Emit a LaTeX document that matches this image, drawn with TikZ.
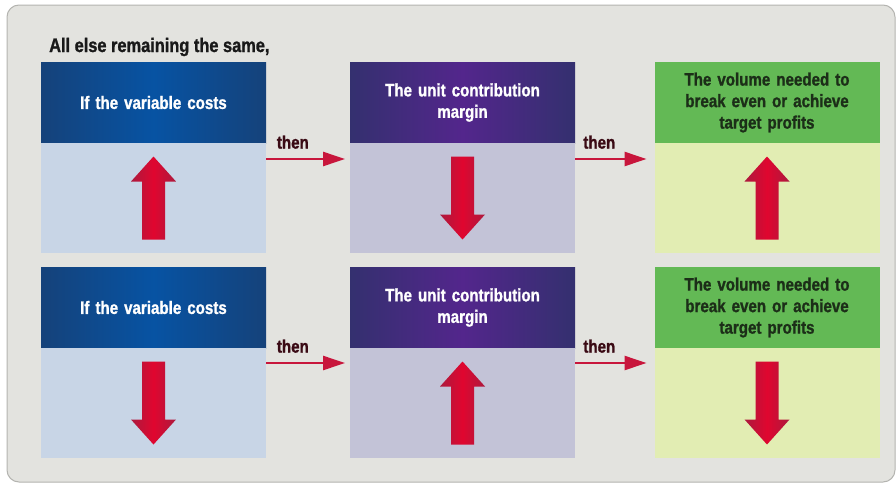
\documentclass[tikz,border=0pt]{standalone}
\usepackage{fontspec}
\setmainfont{Liberation Sans}
\newfontfamily\narrowsf[FakeStretch=0.84, BoldFeatures={FakeBold=1.2}]{Liberation Sans}
\usetikzlibrary{arrows.meta,positioning}

\definecolor{panelgray}{HTML}{E3E3DF}
\definecolor{framegray}{HTML}{B4B4B0}
\definecolor{bluedark}{HTML}{15427A}
\definecolor{bluemid}{HTML}{0753A3}
\definecolor{bluebody}{HTML}{C8D5E6}
\definecolor{purpdark}{HTML}{34306F}
\definecolor{purpmid}{HTML}{53268C}
\definecolor{purpbody}{HTML}{C3C3D7}
\definecolor{greenhd}{HTML}{63B955}
\definecolor{greenbody}{HTML}{E2EDB3}
\definecolor{greentext}{HTML}{1C2E18}
\definecolor{arrowred}{HTML}{E0062F}
\definecolor{arrowdark}{HTML}{AC1A3E}
\definecolor{thenred}{HTML}{C8163C}
\definecolor{thentext}{HTML}{3A0A14}

\tikzset{
  hdr/.style={minimum width=225pt, minimum height=81pt, inner sep=0pt, outer sep=0pt,
    text width=218pt, align=center, font=\narrowsf\bfseries\fontsize{18}{21.5}\selectfont},
  bluehdr/.style={hdr, left color=bluedark, right color=bluedark, middle color=bluemid, text=white},
  purphdr/.style={hdr, left color=purpdark, right color=purpdark, middle color=purpmid, text=white},
  greenhdr/.style={hdr, fill=greenhd, text=greentext},
  body/.style={minimum width=225pt, minimum height=110pt, inner sep=0pt, outer sep=0pt, below=0pt of #1},
  thenarrow/.style={draw=thenred, line width=2.5pt, -{Triangle[length=22pt,width=14pt]}},
  thenlabel/.style={inner sep=0pt, text=thentext, font=\narrowsf\bfseries\fontsize{18}{20}\selectfont},
  % big shaded arrows inside the boxes
  fatup/.pic={\shade[left color=arrowdark, right color=arrowdark, middle color=arrowred]
    (0,-41.5) -- (22.5,-16.5) -- (11.5,-16.5) -- (11.5,41.5) -- (-11.5,41.5) -- (-11.5,-16.5) -- (-22.5,-16.5) -- cycle;},
  fatdown/.pic={\shade[left color=arrowdark, right color=arrowdark, middle color=arrowred]
    (0,41.5) -- (22.5,16.5) -- (11.5,16.5) -- (11.5,-41.5) -- (-11.5,-41.5) -- (-11.5,16.5) -- (-22.5,16.5) -- cycle;}
}

\begin{document}
\begin{tikzpicture}[x=1pt, y=-1pt]
  \useasboundingbox (0,0) rectangle (896,485);
  \fill[white] (0,0) rectangle (896,485);
  \draw[framegray, fill=panelgray, line width=1pt, rounded corners=12pt] (7,5) rectangle (895,482);

  \node[anchor=base west, inner sep=0pt, font=\narrowsf\bfseries\fontsize{19.5}{22}\selectfont, text=black!90]
    (title) at (49,52) {All else remaining the same,};

  % top row
  \node[bluehdr] (vc1) at (153.5,102.5) {If the variable costs};
  \node[body=vc1, fill=bluebody] (vc1b) {};
  \node[purphdr] (ucm1) at (462.5,102.5) {The unit contribution\\margin};
  \node[body=ucm1, fill=purpbody] (ucm1b) {};
  \node[greenhdr] (vol1) at (767,102.5) {The volume needed to\\break even or achieve\\target profits};
  \node[body=vol1, fill=greenbody] (vol1b) {};

  % bottom row
  \node[bluehdr] (vc2) at (153.5,307.5) {If the variable costs};
  \node[body=vc2, fill=bluebody] (vc2b) {};
  \node[purphdr] (ucm2) at (462.5,307.5) {The unit contribution\\margin};
  \node[body=ucm2, fill=purpbody] (ucm2b) {};
  \node[greenhdr] (vol2) at (767,307.5) {The volume needed to\\break even or achieve\\target profits};
  \node[body=vol2, fill=greenbody] (vol2b) {};

  \pic at (vc1b.center) {fatup};
  \pic at (ucm1b.center) {fatdown};
  \pic at (vol1b.center) {fatup};
  \pic at (vc2b.center) {fatdown};
  \pic at (ucm2b.center) {fatup};
  \pic at (vol2b.center) {fatdown};

  % "then" connectors
  \draw[thenarrow] ([yshift=-16pt]vc1b.north east) -- ([xshift=-5pt,yshift=-16pt]ucm1b.north west)
    node[thenlabel, pos=0.34, above=9pt] {then};
  \draw[thenarrow] ([yshift=-16pt]ucm1b.north east) -- ([xshift=-8pt,yshift=-16pt]vol1b.north west)
    node[thenlabel, pos=0.34, above=9pt] {then};
  \draw[thenarrow] ([yshift=-15pt]vc2b.north east) -- ([xshift=-5pt,yshift=-15pt]ucm2b.north west)
    node[thenlabel, pos=0.34, above=9pt] {then};
  \draw[thenarrow] ([yshift=-15pt]ucm2b.north east) -- ([xshift=-8pt,yshift=-15pt]vol2b.north west)
    node[thenlabel, pos=0.34, above=9pt] {then};
\end{tikzpicture}
\end{document}
